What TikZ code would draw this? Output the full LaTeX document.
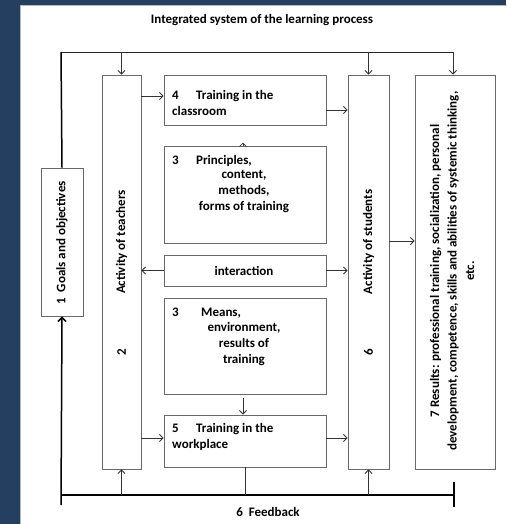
\documentclass[tikz,border=0pt]{standalone}
\usepackage{fontspec}
\setmainfont{Carlito}
\usetikzlibrary{arrows.meta}
\definecolor{navy}{RGB}{37,63,96}
\definecolor{boxgray}{RGB}{105,105,105}
\begin{document}
\begin{tikzpicture}[x=1pt,y=-1pt,
  box/.style={draw=boxgray, line width=0.9pt, fill=white, inner sep=0pt},
  arr/.style={-{Straight Barb[length=3.5pt,width=7pt]}, line width=0.8pt, draw=black!80},
  fb/.style={line width=1.5pt, draw=black},
  fbarr/.style={fb, -{Straight Barb[length=4pt,width=8pt]}},
  txt/.style={font=\fontsize{13}{16}\selectfont\bfseries, inner sep=0pt}
]
\path[use as bounding box, fill=navy] (0,0) rectangle (506,524);
\fill[white, draw=gray!55, line width=1pt] (20.5,5.5) rectangle (512,530);

% title
\node[txt] (title) at (262,20) {Integrated system of the learning process};

% main boxes
\node[box, minimum width=42pt, minimum height=148pt] (goals) at (62,242) {};
\node[box, minimum width=39pt, minimum height=394pt] (teach) at (121.5,272) {};
\node[box, minimum width=41pt, minimum height=394pt] (stud) at (368.5,272) {};
\node[box, minimum width=80pt, minimum height=394pt] (res) at (455,272) {};
\node[box, minimum width=162pt, minimum height=50pt] (b4) at (245,100) {};
\node[box, minimum width=162pt, minimum height=97pt] (prin) at (245,194.5) {};
\node[box, minimum width=162pt, minimum height=31pt] (inter) at (245,270.5) {};
\node[box, minimum width=162pt, minimum height=96pt] (means) at (245,346) {};
\node[box, minimum width=162pt, minimum height=52pt] (b5) at (245,441) {};

% texts
\node[txt, rotate=90] (goalst) at (62,243) {1~~Goals and objectives};
\node[txt, rotate=90] (teacht) at (121.5,242) {Activity of teachers};
\node[txt, rotate=90] (teachn) at (121.5,352) {2};
\node[txt, rotate=90] (studt) at (368.5,242) {Activity of students};
\node[txt, rotate=90] (studn) at (368.5,352) {6};
\node[txt, rotate=90, align=center, font=\fontsize{13}{17.5}\selectfont\bfseries] (rest) at (452,271)
  {7 Results: professional training, socialization, personal\\development, competence, skills and abilities of systemic thinking,\\etc.};
\node[txt, anchor=north west, align=left] (b4t) at (172,90) {\makebox[24pt][l]{4}Training in the\\classroom};
\node[txt, anchor=west] (print1) at (172,161) {\makebox[24pt][l]{3}Principles,};
\node[txt, align=center, anchor=north] (print2) at (244,170) {content,\\methods,\\forms of training};
\node[txt] (intert) at (244,271) {interaction};
\node[txt, anchor=west] (meanst1) at (172,313) {\makebox[29pt][l]{3}Means,};
\node[txt, align=center, anchor=north] (meanst2) at (244,322) {environment,\\results of\\training};
\node[txt, anchor=north west, align=left] (b5t) at (172,423) {\makebox[24pt][l]{5}Training in the\\workplace};
\node[txt] (fbt) at (268,512) {6~~Feedback};

% top distribution line
\coordinate (tl) at (61,52);
\coordinate (tr) at (453,52);
\draw[line width=0.9pt, draw=black!85] (tl) -- (tr);
\draw[fb] (tl) -- (goals.north);
\draw[arr] (teach.north |- tl) -- (teach.north);
\draw[arr] (stud.north |- tl) -- (stud.north);
\draw[arr] (tr) -- (res.north -| tr);

% feedback line
\coordinate (bl) at (61,495);
\coordinate (br) at (454,495);
\coordinate (blb) at (61,505);
\coordinate (brt) at (454,482);
\coordinate (brb) at (454,507);
\draw[fb] (bl) -- (br);
\draw[fb] (brt) -- (brb);
\draw[fbarr] (blb) -- (goals.south);
\draw[arr] (teach.south |- bl) -- (teach.south);
\draw[arr] (stud.south |- bl) -- (stud.south);
\draw[line width=0.8pt, draw=black!80] (b5.south -| 245,0) -- (245,495);

% arrows between boxes
\draw[arr] (teach.east |- 0,96) -- (b4.west |- 0,96);
\draw[arr] (b4.east |- 0,110) -- (stud.west |- 0,110);
\draw[arr] (inter.west) -- (teach.east |- inter.west);
\draw[arr] (inter.east) -- (stud.west |- inter.east);
\draw[arr] (stud.east |- 0,241) -- (res.west |- 0,241);
\draw[arr] (teach.east |- 0,438) -- (b5.west |- 0,438);
\draw[arr] (b5.east |- 0,438) -- (stud.west |- 0,438);
\draw[arr] (243,398) -- (b5.north -| 243,0);
\draw[arr] (prin.north -| 243,0) -- ++(0,-3);
\end{tikzpicture}
\end{document}
